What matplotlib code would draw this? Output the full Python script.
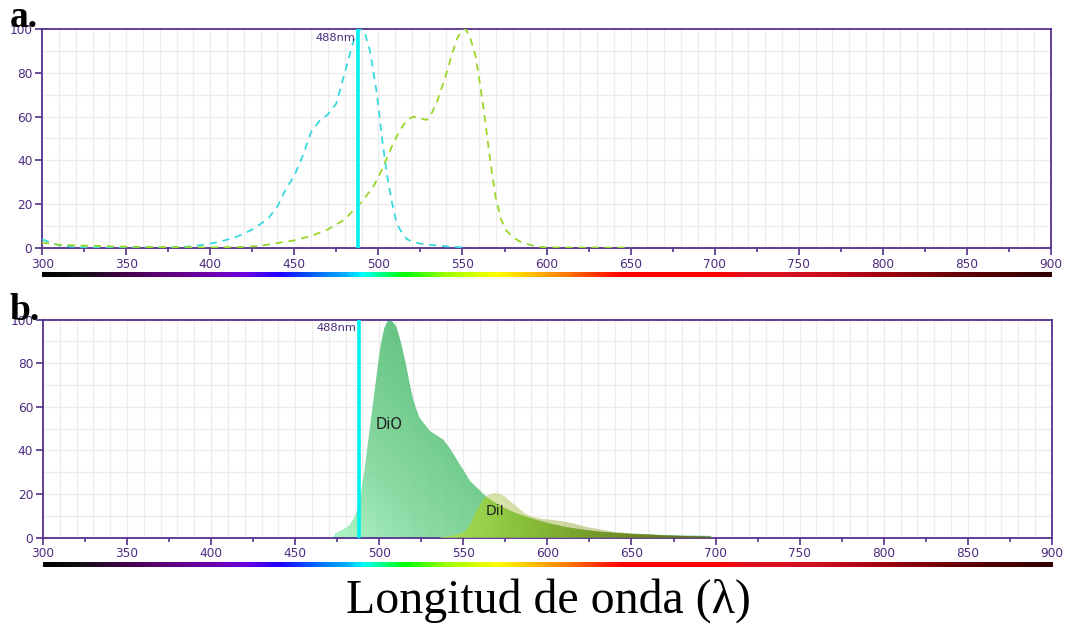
import matplotlib
matplotlib.use("Agg")
import matplotlib.pyplot as plt
import numpy as np
from matplotlib.colors import LinearSegmentedColormap
from matplotlib.ticker import MultipleLocator

# --- data ---
laser_nm = 488

# panel a: excitation spectra (dashed)
dio_ex_nm = [300, 305, 310, 320, 330, 340, 350, 360, 370, 380, 390, 400, 405, 410, 415, 420,
             425, 430, 435, 440, 445, 450, 455, 460, 465, 470, 475, 480, 485, 488, 490, 492,
             495, 499, 502, 505, 508, 511, 514, 517, 520, 525, 530, 540, 550]
dio_ex_val = [4, 2.5, 1.2, 0.5, 0.3, 0.2, 0.2, 0.2, 0.2, 0.3, 0.8, 2, 2.8, 3.8, 5, 6.5,
              8.5, 11, 14, 19, 27, 33, 42, 53, 58, 61, 66, 80, 94, 99, 100, 98,
              90, 71, 51, 34, 21, 11, 7, 4, 3, 2, 1.5, 0.8, 0.3]

dii_ex_nm = [300, 305, 310, 320, 330, 340, 350, 370, 400, 420, 430, 440, 450, 460, 470, 480,
             486, 490, 497, 501, 505, 509, 513, 517, 521, 525, 529, 532, 535, 538, 541, 544,
             547, 550, 552, 555, 558, 561, 564, 567, 570, 573, 576, 580, 584, 590, 594, 600,
             620, 650]
dii_ex_val = [2.5, 2, 1.5, 1.2, 1, 0.8, 0.6, 0.4, 0.3, 0.5, 1, 2.3, 3.5, 5.5, 8.5, 13,
              18, 21, 28, 34, 41, 48, 54, 58.5, 60, 59, 58.5, 62, 67, 74, 81, 89,
              96, 99.5, 100, 95, 87, 72, 55, 37, 22, 13, 8, 5, 3, 1.5, 0.6, 0.3,
              0.2, 0.2]

# panel b: emission spectra (filled)
dio_em_nm = [472, 474, 478, 482, 485, 487, 489, 491, 493, 495, 497, 499, 501, 503, 505, 506,
             508, 510, 512, 514, 516, 518, 520, 522, 524, 527, 530, 534, 538, 542, 546, 550,
             554, 558, 562, 566, 570, 576, 582, 588, 594, 600, 610, 620, 630, 640, 650, 660,
             670, 680, 690, 697, 698]
dio_em_val = [0, 2, 3.5, 5.5, 9, 13, 20, 30, 42, 54, 66, 78, 89, 96, 99.5, 100,
              99, 97, 92, 86, 79, 71, 64, 59, 55, 52, 49, 47, 45, 41, 36, 31,
              26, 23, 20, 17.5, 15.5, 13, 11, 9.5, 8, 6.8, 5, 3.8, 2.8, 2.2, 1.7, 1.4,
              1.2, 1, 0.9, 0.8, 0]

dii_em_nm = [535, 540, 545, 551, 554, 557, 560, 563, 566, 569, 572, 575, 579, 583, 587, 591,
             597, 603, 611, 617, 623, 631, 639, 650, 662, 670, 680, 690, 697, 698]
dii_em_val = [0, 0.5, 1.2, 2.7, 6, 11, 15, 18.8, 20, 20.5, 20, 18.8, 16, 13.4, 11, 9.6,
              8.6, 8.1, 7.3, 6.2, 5, 3.8, 2.7, 2, 1.5, 1, 0.8, 0.6, 0.4, 0]

# visible spectrum colour stops for the bar under each axis
spec_nm = [300, 320, 350, 375, 400, 420, 440, 460, 480, 490, 505, 515, 540, 570, 590, 610,
           630, 645, 700, 720, 760, 800, 850, 900]
spec_col = ["#000000", "#101010", "#480050", "#600080", "#7000b0", "#6a00e0", "#2000ff",
            "#0060ff", "#00b0ff", "#00ffff", "#00ff60", "#00ff00", "#a0ff00", "#ffff00",
            "#ffc000", "#ff8000", "#ff3000", "#ff0000", "#ff0000", "#e01020", "#d01020",
            "#a00010", "#600008", "#300000"]

purple = "#55308d"
txt_purple = "#4b2c7f"

fig = plt.figure(figsize=(10.7, 6.26), dpi=100)


def style_axis(ax):
    ax.set_xlim(300, 900)
    ax.set_ylim(0, 100)
    ax.xaxis.set_major_locator(MultipleLocator(50))
    ax.xaxis.set_minor_locator(MultipleLocator(25))
    ax.yaxis.set_major_locator(MultipleLocator(20))
    ax.yaxis.set_minor_locator(MultipleLocator(10))
    for x in range(310, 900, 10):
        ax.axvline(x, color="#ececec", lw=0.9, zorder=0)
    for y in range(10, 100, 10):
        ax.axhline(y, color="#ececec", lw=0.9, zorder=0)
    ax.tick_params(axis="y", which="minor", length=0)
    ax.tick_params(which="major", length=5, width=1.2, color=purple, labelcolor=txt_purple,
                   labelsize=8.7, pad=2)
    ax.tick_params(axis="x", which="minor", length=3, width=1.2, color=purple)
    for s in ax.spines.values():
        s.set_color(purple)
        s.set_linewidth(1.3)


def spectrum_bar(rect):
    bax = fig.add_axes(rect)
    frac = [(w - 300) / 600 for w in spec_nm]
    cmap = LinearSegmentedColormap.from_list("spec", list(zip(frac, spec_col)))
    bax.imshow(np.linspace(0, 1, 600).reshape(1, -1), cmap=cmap, aspect="auto",
               extent=[300, 900, 0, 1])
    bax.set_axis_off()


def gradient_fill(ax, x, y, stops, alpha, z, wx=1.0, wy=0.0):
    # fill under y with a colour ramp running along x (wx) and/or up y (wy)
    x = np.asarray(x, float)
    y = np.asarray(y, float)
    poly = ax.fill_between(x, 0, y, facecolor="none", edgecolor="none")
    cmap = LinearSegmentedColormap.from_list("g", stops)
    gx, gy = np.meshgrid(np.linspace(0, 1, 200), np.linspace(0, 1, 200))
    img = np.clip(wx * gx + wy * gy, 0, 1)
    im = ax.imshow(img, cmap=cmap, aspect="auto", vmin=0, vmax=1,
                   extent=[x.min(), x.max(), 0, y.max()], alpha=alpha, zorder=z,
                   origin="lower", interpolation="bilinear")
    im.set_clip_path(poly.get_paths()[0], transform=ax.transData)


# --- panel a ---
ax1 = fig.add_axes([0.0393, 0.6038, 0.9430, 0.3500])
style_axis(ax1)
ax1.plot(dio_ex_nm, dio_ex_val, ls=(0, (4, 3.2)), color="#3ad8e0", lw=1.3, zorder=3)
ax1.plot(dii_ex_nm, dii_ex_val, ls=(0, (4, 3.2)), color="#9ad62a", lw=1.3, zorder=3)
ax1.axvline(laser_nm, color="#00f0f0", lw=2.6, zorder=4)
ax1.text(laser_nm - 1.5, 96, "488nm", ha="right", va="center", fontsize=8.2, color=txt_purple)
spectrum_bar([0.0393, 0.5575, 0.9430, 0.008])

# --- panel b ---
ax2 = fig.add_axes([0.0401, 0.1411, 0.9430, 0.3485])
style_axis(ax2)
# DiO: light mint at bottom-left, deeper green toward the top / right
gradient_fill(ax2, dio_em_nm, dio_em_val,
              [(0, "#a6f5c0"), (0.4, "#80d89c"), (1, "#58bf78")], 0.9, 2, wx=1.6, wy=0.8)
# DiI: pale translucent layer for the whole curve ...
gradient_fill(ax2, dii_em_nm, dii_em_val,
              [(0, "#c4e070"), (0.5, "#a8b458"), (1, "#8c8a48")], 0.55, 3)
# ... and a stronger lime/olive tone where it overlaps DiO
overlap = np.minimum(dii_em_val, np.interp(dii_em_nm, dio_em_nm, dio_em_val))
gradient_fill(ax2, dii_em_nm, overlap,
              [(0, "#a8e454"), (0.3, "#88c030"), (0.65, "#6a8a18"), (1, "#5a6010")], 0.85, 3.5)
ax2.set_xlim(300, 900)
ax2.set_ylim(0, 100)
ax2.axvline(laser_nm, color="#00f0f0", lw=2.6, zorder=4)
ax2.text(laser_nm - 1.5, 96, "488nm", ha="right", va="center", fontsize=8.2, color=txt_purple)
ax2.text(498, 52, "DiO", ha="left", va="center", fontsize=10.5, color="#222222", zorder=5)
ax2.text(569, 12, "DiI", ha="center", va="center", fontsize=10, color="#222222", zorder=5)
spectrum_bar([0.0401, 0.0942, 0.9430, 0.008])

# panel letters and axis title
fig.text(0.009, 0.957, "a.", fontsize=27, fontweight="bold", family="Liberation Serif",
         ha="left", va="baseline")
fig.text(0.009, 0.489, "b.", fontsize=27, fontweight="bold", family="Liberation Serif",
         ha="left", va="baseline")
fig.text(0.513, 0.04, "Longitud de onda (λ)", fontsize=34.5, family="Liberation Serif",
         ha="center", va="center")

fig.savefig("out.png", dpi=100)
